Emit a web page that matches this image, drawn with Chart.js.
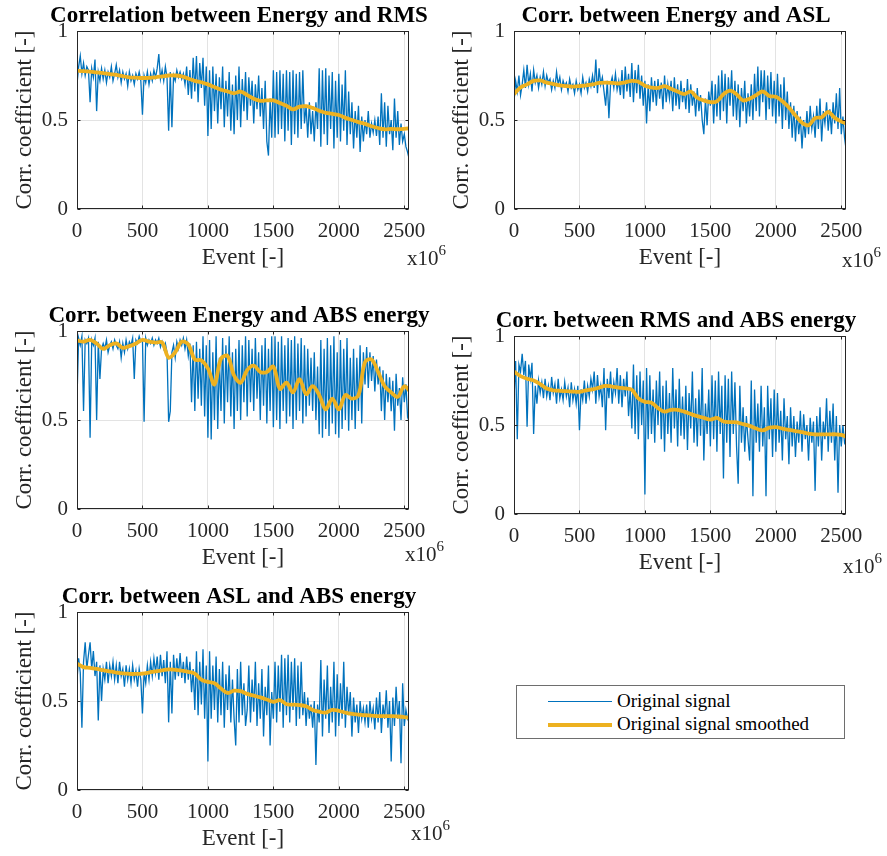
<!DOCTYPE html>
<html>
<head>
<meta charset="utf-8">
<script src="https://cdn.jsdelivr.net/npm/chart.js@4.4.1/dist/chart.umd.min.js"></script>
<style>
  body { margin: 0; background: #fff; width: 887px; height: 856px; overflow: hidden; position: relative;
         font-family: "Liberation Serif", "Times New Roman", serif; }
  canvas { position: absolute; }
  #legend { position: absolute; left: 516px; top: 685px; width: 327px; height: 52px;
            border: 1px solid #6e6e6e; background: #fff; }
  #legend .sw { position: absolute; left: 31px; width: 64px; }
  #legend .lbl { position: absolute; left: 100px; font-size: 19px; line-height: 22px; color: #000; white-space: nowrap; }
</style>
</head>
<body>
<canvas id="c1" width="450" height="280" style="left:0px;top:0px"></canvas>
<canvas id="c2" width="450" height="280" style="left:437px;top:0px"></canvas>
<canvas id="c3" width="450" height="280" style="left:0px;top:300px"></canvas>
<canvas id="c4" width="450" height="280" style="left:437px;top:305px"></canvas>
<canvas id="c5" width="450" height="280" style="left:0px;top:581px"></canvas>
<div id="legend">
  <div class="sw" style="top:15px;height:1px;background:#0072BD"></div>
  <div class="lbl" style="top:4px">Original signal</div>
  <div class="sw" style="top:37px;height:4px;background:#EDB120"></div>
  <div class="lbl" style="top:27px">Original signal smoothed</div>
</div>
<script>
// sampling grids (event axis, in units of 10^6)
var RAW_STEP = 12.5;
var SMOOTH_STEP = 50;
var X_MAX = 2536;
var X_TICKS = [0, 500, 1000, 1500, 2000, 2500];
var Y_TICKS = [0, 0.5, 1];
var Y_TICK_LABELS = ['0', '0.5', '1'];
var TITLES = [
  'Correlation between Energy and RMS',
  'Corr. between Energy and ASL',
  'Corr. between Energy and ABS energy',
  'Corr. between RMS and ABS energy',
  'Corr. between ASL and ABS energy'
];

// Energy vs RMS
var energyRmsRaw = [
  0.70, 0.80, 0.86, 0.76, 0.82, 0.75, 0.80, 0.78,
  0.60, 0.79, 0.74, 0.84, 0.55, 0.77, 0.72, 0.79,
  0.73, 0.78, 0.71, 0.77, 0.74, 0.80, 0.72, 0.76,
  0.81, 0.74, 0.78, 0.71, 0.77, 0.73, 0.76, 0.69,
  0.77, 0.72, 0.75, 0.70, 0.76, 0.73, 0.77, 0.72,
  0.53, 0.75, 0.71, 0.77, 0.70, 0.76, 0.72, 0.78,
  0.74, 0.79, 0.87, 0.73, 0.78, 0.72, 0.80, 0.74,
  0.44, 0.77, 0.46, 0.75, 0.72, 0.78, 0.74, 0.77,
  0.73, 0.76, 0.70, 0.80, 0.64, 0.78, 0.62, 0.85,
  0.66, 0.86, 0.60, 0.82, 0.68, 0.85, 0.58, 0.80,
  0.41, 0.78, 0.45, 0.80, 0.55, 0.76, 0.48, 0.74,
  0.56, 0.80, 0.46, 0.72, 0.52, 0.77, 0.44, 0.70,
  0.42, 0.75, 0.50, 0.80, 0.46, 0.73, 0.55, 0.77,
  0.50, 0.74, 0.58, 0.72, 0.48, 0.70, 0.56, 0.75,
  0.52, 0.68, 0.45, 0.72, 0.38, 0.30, 0.62, 0.40,
  0.78, 0.40, 0.77, 0.42, 0.78, 0.45, 0.76, 0.38,
  0.78, 0.44, 0.77, 0.36, 0.78, 0.42, 0.76, 0.40,
  0.77, 0.45, 0.78, 0.48, 0.58, 0.40, 0.60, 0.42,
  0.55, 0.38, 0.60, 0.45, 0.79, 0.35, 0.78, 0.42,
  0.79, 0.36, 0.75, 0.45, 0.77, 0.34, 0.72, 0.40,
  0.76, 0.38, 0.70, 0.44, 0.78, 0.36, 0.66, 0.42,
  0.60, 0.34, 0.55, 0.40, 0.58, 0.32, 0.52, 0.38,
  0.50, 0.42, 0.55, 0.40, 0.48, 0.43, 0.50, 0.41,
  0.52, 0.36, 0.65, 0.40, 0.60, 0.35, 0.58, 0.42,
  0.50, 0.33, 0.62, 0.40, 0.55, 0.36, 0.48, 0.38,
  0.42, 0.35, 0.32, 0.28
];
var energyRmsSmooth = [
  0.777, 0.775, 0.772, 0.768, 0.764, 0.758, 0.753, 0.746, 0.740, 0.738,
  0.736, 0.737, 0.740, 0.745, 0.750, 0.750, 0.745, 0.733, 0.720, 0.712,
  0.700, 0.685, 0.670, 0.660, 0.650, 0.660, 0.640, 0.620, 0.608, 0.610,
  0.610, 0.595, 0.580, 0.560, 0.575, 0.578, 0.568, 0.552, 0.540, 0.535,
  0.528, 0.512, 0.500, 0.488, 0.478, 0.465, 0.455, 0.448, 0.450, 0.448,
  0.450, 0.455
];

// Energy vs ASL
var energyAslRaw = [
  0.60, 0.72, 0.66, 0.75, 0.64, 0.70, 0.78, 0.68,
  0.81, 0.70, 0.76, 0.66, 0.78, 0.71, 0.75, 0.68,
  0.74, 0.70, 0.77, 0.69, 0.75, 0.71, 0.73, 0.67,
  0.72, 0.68, 0.77, 0.70, 0.74, 0.67, 0.72, 0.69,
  0.71, 0.66, 0.73, 0.68, 0.70, 0.65, 0.72, 0.67,
  0.70, 0.65, 0.74, 0.68, 0.71, 0.66, 0.73, 0.69,
  0.75, 0.68, 0.84, 0.65, 0.79, 0.70, 0.74, 0.66,
  0.58, 0.72, 0.51, 0.70, 0.74, 0.68, 0.76, 0.67,
  0.72, 0.64, 0.78, 0.62, 0.80, 0.66, 0.76, 0.63,
  0.82, 0.60, 0.78, 0.65, 0.81, 0.62, 0.75, 0.58,
  0.72, 0.48, 0.70, 0.55, 0.74, 0.60, 0.72, 0.58,
  0.73, 0.62, 0.71, 0.56, 0.75, 0.60, 0.70, 0.62,
  0.72, 0.55, 0.74, 0.58, 0.70, 0.56, 0.72, 0.60,
  0.68, 0.56, 0.73, 0.54, 0.70, 0.58, 0.66, 0.52,
  0.68, 0.55, 0.64, 0.50, 0.42, 0.62, 0.47, 0.66,
  0.58, 0.72, 0.48, 0.70, 0.52, 0.75, 0.50, 0.78,
  0.55, 0.76, 0.48, 0.74, 0.58, 0.78, 0.52, 0.72,
  0.50, 0.70, 0.46, 0.68, 0.55, 0.72, 0.48, 0.65,
  0.52, 0.70, 0.50, 0.76, 0.55, 0.80, 0.52, 0.78,
  0.60, 0.78, 0.50, 0.75, 0.56, 0.77, 0.52, 0.72,
  0.48, 0.76, 0.52, 0.70, 0.45, 0.74, 0.50, 0.66,
  0.45, 0.60, 0.40, 0.58, 0.38, 0.55, 0.42, 0.52,
  0.34, 0.50, 0.40, 0.55, 0.42, 0.58, 0.45, 0.52,
  0.40, 0.58, 0.45, 0.62, 0.38, 0.55, 0.48, 0.60,
  0.44, 0.56, 0.42, 0.60, 0.48, 0.65, 0.45, 0.68,
  0.42, 0.52, 0.40, 0.33
];
var energyAslSmooth = [
  0.645, 0.683, 0.700, 0.720, 0.722, 0.710, 0.702, 0.695, 0.690, 0.688,
  0.690, 0.695, 0.700, 0.708, 0.710, 0.708, 0.705, 0.712, 0.720, 0.715,
  0.692, 0.682, 0.680, 0.690, 0.675, 0.660, 0.645, 0.660, 0.625, 0.610,
  0.600, 0.605, 0.645, 0.665, 0.645, 0.610, 0.620, 0.640, 0.660, 0.635,
  0.630, 0.605, 0.570, 0.525, 0.485, 0.470, 0.510, 0.515, 0.545, 0.512,
  0.492, 0.478
];

// Energy vs ABS energy
var energyAbsRaw = [
  0.62, 0.96, 0.92, 0.97, 0.55, 0.95, 0.93, 0.96,
  0.40, 0.95, 0.92, 0.96, 0.50, 0.94, 0.73, 0.90,
  0.93, 0.90, 0.95, 0.88, 0.92, 0.94, 0.90, 0.95,
  0.92, 0.90, 0.94, 0.85, 0.93, 0.88, 0.95, 0.90,
  0.94, 0.92, 0.96, 0.73, 0.95, 0.93, 0.97, 0.94,
  0.95, 0.49, 0.96, 0.92, 0.95, 0.93, 0.96, 0.92,
  0.95, 0.93, 0.96, 0.91, 0.94, 0.90, 0.93, 0.88,
  0.49, 0.55, 0.88, 0.92, 0.85, 0.94, 0.90, 0.95,
  0.92, 0.96, 0.90, 0.95, 0.86, 0.93, 0.60, 0.92,
  0.55, 0.94, 0.62, 0.90, 0.58, 0.97, 0.52, 0.92,
  0.40, 0.95, 0.39, 0.88, 0.50, 0.97, 0.45, 0.85,
  0.55, 0.96, 0.48, 0.92, 0.60, 0.97, 0.52, 0.88,
  0.45, 0.90, 0.55, 0.95, 0.50, 0.92, 0.60, 0.97,
  0.52, 0.95, 0.60, 0.90, 0.55, 0.96, 0.62, 0.88,
  0.50, 0.92, 0.58, 0.96, 0.48, 0.90, 0.55, 0.97,
  0.46, 0.97, 0.50, 0.94, 0.45, 0.97, 0.55, 0.92,
  0.48, 0.96, 0.52, 0.95, 0.45, 0.97, 0.50, 0.93,
  0.55, 0.96, 0.48, 0.92, 0.52, 0.90, 0.58, 0.85,
  0.55, 0.88, 0.50, 0.80, 0.42, 0.95, 0.40, 0.90,
  0.45, 0.96, 0.41, 0.92, 0.48, 0.97, 0.42, 0.88,
  0.40, 0.95, 0.45, 0.90, 0.50, 0.96, 0.44, 0.85,
  0.50, 0.90, 0.45, 0.85, 0.55, 0.92, 0.48, 0.88,
  0.70, 0.91, 0.68, 0.88, 0.72, 0.86, 0.66, 0.84,
  0.70, 0.80, 0.55, 0.78, 0.50, 0.76, 0.60, 0.74,
  0.55, 0.72, 0.44, 0.76, 0.58, 0.68, 0.50, 0.74,
  0.60, 0.70, 0.52, 0.55
];
var energyAbsSmooth = [
  0.947, 0.940, 0.950, 0.930, 0.900, 0.920, 0.930, 0.905, 0.915, 0.930,
  0.950, 0.940, 0.935, 0.935, 0.850, 0.880, 0.940, 0.925, 0.840, 0.835,
  0.790, 0.700, 0.845, 0.860, 0.750, 0.710, 0.780, 0.805, 0.770, 0.770,
  0.800, 0.675, 0.710, 0.655, 0.730, 0.645, 0.690, 0.640, 0.560, 0.620,
  0.560, 0.640, 0.620, 0.640, 0.825, 0.840, 0.770, 0.690, 0.655, 0.630,
  0.690, 0.655
];

// RMS vs ABS energy
var rmsAbsRaw = [
  0.65, 0.86, 0.42, 0.84, 0.80, 0.90, 0.78, 0.86,
  0.49, 0.84, 0.76, 0.85, 0.45, 0.72, 0.62, 0.75,
  0.68, 0.74, 0.65, 0.76, 0.66, 0.72, 0.64, 0.77,
  0.68, 0.73, 0.62, 0.76, 0.65, 0.70, 0.64, 0.74,
  0.66, 0.71, 0.60, 0.74, 0.64, 0.70, 0.62, 0.72,
  0.47, 0.70, 0.64, 0.75, 0.62, 0.72, 0.66, 0.76,
  0.70, 0.80, 0.62, 0.78, 0.66, 0.72, 0.60, 0.82,
  0.47, 0.76, 0.65, 0.80, 0.62, 0.74, 0.68, 0.82,
  0.62, 0.78, 0.60, 0.76, 0.66, 0.80, 0.55, 0.70,
  0.48, 0.84, 0.45, 0.78, 0.42, 0.80, 0.50, 0.75,
  0.11, 0.82, 0.42, 0.78, 0.45, 0.70, 0.40, 0.75,
  0.50, 0.80, 0.42, 0.72, 0.35, 0.75, 0.45, 0.68,
  0.40, 0.82, 0.48, 0.70, 0.38, 0.76, 0.44, 0.66,
  0.42, 0.72, 0.36, 0.68, 0.48, 0.80, 0.40, 0.65,
  0.38, 0.70, 0.44, 0.82, 0.30, 0.62, 0.45, 0.70,
  0.38, 0.78, 0.42, 0.75, 0.35, 0.80, 0.45, 0.72,
  0.20, 0.78, 0.40, 0.76, 0.32, 0.80, 0.45, 0.74,
  0.38, 0.17, 0.72, 0.40, 0.60, 0.35, 0.55, 0.42,
  0.30, 0.75, 0.10, 0.70, 0.40, 0.62, 0.35, 0.72,
  0.38, 0.60, 0.10, 0.72, 0.42, 0.65, 0.32, 0.70,
  0.35, 0.68, 0.40, 0.58, 0.30, 0.65, 0.42, 0.55,
  0.28, 0.60, 0.38, 0.55, 0.32, 0.52, 0.40, 0.58,
  0.35, 0.56, 0.42, 0.50, 0.30, 0.54, 0.40, 0.52,
  0.13, 0.55, 0.38, 0.60, 0.30, 0.52, 0.42, 0.65,
  0.35, 0.58, 0.40, 0.62, 0.30, 0.55, 0.12, 0.50,
  0.38, 0.50, 0.40, 0.42
];
var rmsAbsSmooth = [
  0.800, 0.775, 0.760, 0.750, 0.730, 0.705, 0.695, 0.692, 0.690, 0.688,
  0.686, 0.695, 0.700, 0.710, 0.720, 0.716, 0.710, 0.706, 0.698, 0.650,
  0.630, 0.625, 0.595, 0.575, 0.585, 0.585, 0.575, 0.562, 0.550, 0.540,
  0.530, 0.540, 0.520, 0.516, 0.515, 0.505, 0.495, 0.480, 0.470, 0.485,
  0.488, 0.480, 0.472, 0.466, 0.460, 0.452, 0.447, 0.447, 0.447, 0.448,
  0.445, 0.430
];

// ASL vs ABS energy
var aslAbsRaw = [
  0.62, 0.74, 0.66, 0.35, 0.72, 0.83, 0.68, 0.76,
  0.83, 0.68, 0.78, 0.64, 0.72, 0.39, 0.70, 0.50,
  0.68, 0.62, 0.72, 0.60, 0.70, 0.64, 0.72, 0.62,
  0.70, 0.60, 0.72, 0.64, 0.68, 0.58, 0.70, 0.62,
  0.68, 0.60, 0.70, 0.62, 0.67, 0.58, 0.68, 0.62,
  0.43, 0.66, 0.60, 0.70, 0.62, 0.72, 0.64, 0.74,
  0.66, 0.75, 0.62, 0.76, 0.64, 0.73, 0.60, 0.78,
  0.38, 0.72, 0.43, 0.76, 0.62, 0.74, 0.64, 0.77,
  0.63, 0.72, 0.60, 0.75, 0.62, 0.72, 0.55, 0.68,
  0.45, 0.78, 0.42, 0.72, 0.48, 0.79, 0.40, 0.70,
  0.16, 0.78, 0.40, 0.70, 0.45, 0.75, 0.38, 0.68,
  0.42, 0.72, 0.35, 0.65, 0.45, 0.70, 0.38, 0.62,
  0.40, 0.25, 0.68, 0.38, 0.72, 0.42, 0.60, 0.36,
  0.45, 0.70, 0.38, 0.62, 0.44, 0.72, 0.36, 0.60,
  0.40, 0.68, 0.30, 0.58, 0.42, 0.70, 0.25, 0.55,
  0.40, 0.72, 0.38, 0.70, 0.44, 0.76, 0.35, 0.74,
  0.42, 0.76, 0.38, 0.72, 0.45, 0.74, 0.36, 0.70,
  0.40, 0.72, 0.42, 0.55, 0.36, 0.52, 0.40, 0.48,
  0.35, 0.50, 0.14, 0.48, 0.38, 0.73, 0.30, 0.62,
  0.40, 0.70, 0.32, 0.58, 0.38, 0.72, 0.30, 0.65,
  0.36, 0.60, 0.40, 0.72, 0.35, 0.58, 0.42, 0.55,
  0.30, 0.52, 0.38, 0.48, 0.32, 0.50, 0.40, 0.46,
  0.38, 0.48, 0.35, 0.50, 0.40, 0.46, 0.34, 0.52,
  0.38, 0.55, 0.32, 0.48, 0.40, 0.56, 0.35, 0.50,
  0.16, 0.52, 0.36, 0.58, 0.40, 0.50, 0.15, 0.60,
  0.36, 0.45, 0.40, 0.38
];
var aslAbsSmooth = [
  0.710, 0.690, 0.686, 0.680, 0.673, 0.666, 0.660, 0.655, 0.652, 0.652,
  0.654, 0.660, 0.667, 0.672, 0.678, 0.675, 0.670, 0.664, 0.654, 0.620,
  0.607, 0.600, 0.570, 0.545, 0.558, 0.555, 0.540, 0.530, 0.520, 0.508,
  0.495, 0.505, 0.482, 0.480, 0.477, 0.470, 0.450, 0.440, 0.435, 0.450,
  0.445, 0.435, 0.428, 0.424, 0.420, 0.418, 0.415, 0.415, 0.415, 0.413,
  0.410, 0.405
];

var FONT = '"Liberation Serif", "Times New Roman", serif';

function toPoints(values, step) {
  return values.map(function(v, i) { return {x: i * step, y: v}; });
}

// draws the MATLAB style box, inner tick marks, title and x10^6 multiplier
var matlabAxes = {
  id: 'matlabAxes',
  afterDatasetsDraw: function(chart, args, opts) {
    var a = chart.chartArea, ctx = chart.ctx;
    var xs = chart.scales.x, ys = chart.scales.y;
    var L = Math.round(a.left) + 0.5, R = Math.round(a.right) - 0.5;
    var T = Math.round(a.top) + 0.5, B = Math.round(a.bottom) - 0.5;
    ctx.save();
    ctx.strokeStyle = '#262626';
    ctx.lineWidth = 1;
    ctx.beginPath();
    X_TICKS.forEach(function(v) {
      var px = Math.round(xs.getPixelForValue(v)) + 0.5;
      ctx.moveTo(px, B); ctx.lineTo(px, B - 3);
      ctx.moveTo(px, T); ctx.lineTo(px, T + 3);
    });
    Y_TICKS.forEach(function(v) {
      var py = Math.round(ys.getPixelForValue(v)) + 0.5;
      ctx.moveTo(L, py); ctx.lineTo(L + 3, py);
      ctx.moveTo(R, py); ctx.lineTo(R - 3, py);
    });
    ctx.stroke();
    ctx.strokeRect(L, T, R - L, B - T);

    ctx.fillStyle = '#000';
    ctx.font = 'bold 23px ' + FONT;
    ctx.textAlign = 'center';
    ctx.textBaseline = 'middle';
    ctx.fillText(opts.title, (a.left + a.right) / 2 - 4, a.top - 15);

    ctx.fillStyle = '#262626';
    ctx.font = '21px ' + FONT;
    ctx.textAlign = 'left';
    ctx.textBaseline = 'alphabetic';
    ctx.fillText('x10', opts.expX, opts.expY);
    var w = ctx.measureText('x10').width;
    ctx.font = '15px ' + FONT;
    ctx.fillText('6', opts.expX + w, opts.expY - 10);
    ctx.restore();
  }
};

function makePanel(canvasId, title, raw, smooth, expX, expY) {
  var ctx = document.getElementById(canvasId).getContext('2d');
  return new Chart(ctx, {
    type: 'line',
    data: {
      datasets: [{
        label: 'Original signal smoothed',
        data: toPoints(smooth, SMOOTH_STEP),
        borderColor: '#EDB120',
        borderWidth: 3.8,
        pointRadius: 0,
        tension: 0.35,
        clip: 0
      }, {
        label: 'Original signal',
        data: toPoints(raw, RAW_STEP),
        borderColor: '#0072BD',
        borderWidth: 1.3,
        pointRadius: 0,
        tension: 0,
        clip: 0
      }]
    },
    options: {
      responsive: false,
      animation: false,
      events: [],
      layout: { padding: { left: 0, top: 31, right: 41, bottom: 0 } },
      plugins: {
        legend: { display: false },
        tooltip: { enabled: false },
        matlabAxes: { title: title, expX: expX, expY: expY }
      },
      scales: {
        x: {
          type: 'linear',
          min: 0,
          max: X_MAX,
          afterBuildTicks: function(s) { s.ticks = X_TICKS.map(function(v) { return {value: v}; }); },
          afterFit: function(s) { s.height = 71; },
          grid: { color: '#e3e3e3', drawTicks: false },
          border: { display: false },
          ticks: { padding: 10, maxRotation: 0, color: '#262626', font: { family: FONT, size: 21 },
                   callback: function(v) { return String(v); } },
          title: { display: true, text: 'Event [-]', color: '#262626', padding: { top: 0, bottom: 8 },
                   font: { family: FONT, size: 23 } }
        },
        y: {
          min: 0,
          max: 1,
          afterBuildTicks: function(s) { s.ticks = Y_TICKS.map(function(v) { return {value: v}; }); },
          afterFit: function(s) { s.width = 77; },
          grid: { color: '#e3e3e3', drawTicks: false },
          border: { display: false },
          ticks: { padding: 9, color: '#262626', font: { family: FONT, size: 21 },
                   callback: function(v, i) { return Y_TICK_LABELS[i]; } },
          title: { display: true, text: 'Corr. coefficient [-]', color: '#262626', padding: { top: 11, bottom: 0 },
                   font: { family: FONT, size: 23 } }
        }
      }
    },
    plugins: [matlabAxes]
  });
}

makePanel('c1', TITLES[0], energyRmsRaw, energyRmsSmooth, 407, 265);
makePanel('c2', TITLES[1], energyAslRaw, energyAslSmooth, 405, 267);
makePanel('c3', TITLES[2], energyAbsRaw, energyAbsSmooth, 405, 261);
makePanel('c4', TITLES[3], rmsAbsRaw, rmsAbsSmooth, 406, 268);
makePanel('c5', TITLES[4], aslAbsRaw, aslAbsSmooth, 411, 259);
</script>
</body>
</html>
